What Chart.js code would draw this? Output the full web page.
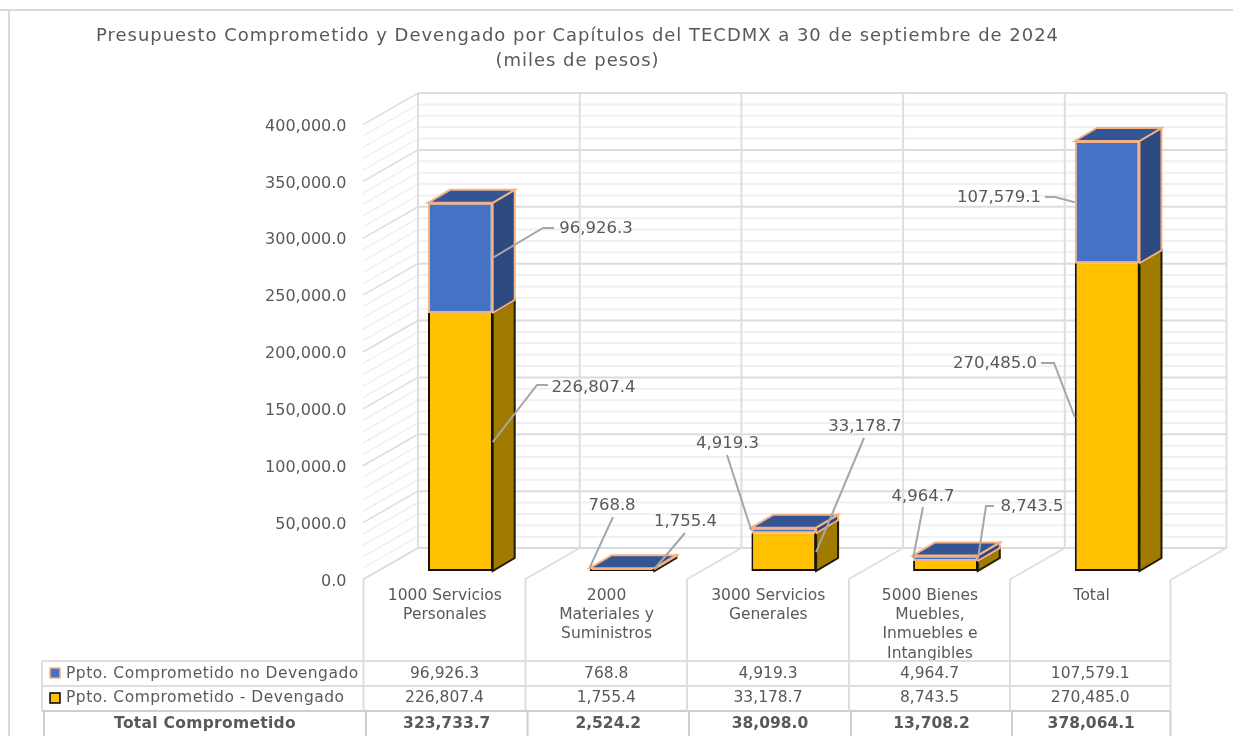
<!DOCTYPE html>
<html lang="es">
<head>
<meta charset="utf-8">
<title>Presupuesto Comprometido y Devengado</title>
<style>html,body{margin:0;padding:0;background:#fff;overflow:hidden}canvas{display:block}</style>
<script src="https://cdn.jsdelivr.net/npm/chart.js@4/dist/chart.umd.min.js"></script>
</head>
<body>
<canvas id="c" width="1233" height="736"></canvas>
<script>
const categories = [
  ['1000 Servicios','Personales'],
  ['2000','Materiales y','Suministros'],
  ['3000 Servicios','Generales'],
  ['5000 Bienes','Muebles,','Inmuebles e','Intangibles'],
  ['Total']
];
const devengado   = [226807.4, 1755.4, 33178.7, 8743.5, 270485.0];
const noDevengado = [96926.3, 768.8, 4919.3, 4964.7, 107579.1];
const totales     = [323733.7, 2524.2, 38098.0, 13708.2, 378064.1];
const serieDevengado   = 'Ppto. Comprometido - Devengado';
const serieNoDevengado = 'Ppto. Comprometido no Devengado';
const filaTotal = 'Total Comprometido';
const titulo = ['Presupuesto Comprometido y Devengado por Capítulos del TECDMX a 30 de septiembre de 2024','(miles de pesos)'];

const FONT = '"DejaVu Sans"';
const TXT = '#595959';
const fmt = v => v.toLocaleString('en-US',{minimumFractionDigits:1,maximumFractionDigits:1});

// depth geometry of the simulated 3D view
const BAR_DX = 22, BAR_DY = -13;
const WALL_DX = 38.5, WALL_DY = -23, FLOOR_DX = -16.5, FLOOR_DY = 8.5;

// data label placement: label centre, then leader points (the last point is computed from the bar)
const callouts = [
  [ // Devengado
    {t:[593.5,387], edge:'r', pts:[[548,385],[537,385]]},
    {t:[685.5,521], edge:'r', pts:[[685,533]], end:-1},
    {t:[865,426],   edge:'r', pts:[[864,438]]},
    {t:[1032,506],  edge:'r', pts:[[994,506],[986,506]], end:-6},
    {t:[995,363],   edge:'l', pts:[[1041,363],[1054,363]]}
  ],
  [ // No devengado
    {t:[596,228],   edge:'r', pts:[[554,228],[543,228]]},
    {t:[612,505],   edge:'l', pts:[[613,517]], end:-1},
    {t:[727.5,443], edge:'l', pts:[[727,455]]},
    {t:[923,496],   edge:'l', pts:[[923,507]]},
    {t:[999,197],   edge:'l', pts:[[1045,197],[1055,197]]}
  ]
];

function poly(ctx, pts, fill, stroke, lw){
  ctx.beginPath();
  pts.forEach((p,i)=> i?ctx.lineTo(p[0],p[1]):ctx.moveTo(p[0],p[1]));
  ctx.closePath();
  ctx.fillStyle = fill; ctx.fill();
  if(stroke){ctx.strokeStyle=stroke;ctx.lineWidth=lw;ctx.lineJoin='miter';ctx.stroke();}
}
function line(ctx,x1,y1,x2,y2,c,w){
  ctx.beginPath();ctx.moveTo(x1,y1);ctx.lineTo(x2,y2);ctx.strokeStyle=c;ctx.lineWidth=w;ctx.stroke();
}

const view3d = {
  id:'view3d',
  afterLayout(chart){
    // The title is centred over the plot frame of the original, not over the canvas
    const tb = chart.titleBlock;
    if(tb){
      tb.left = 96; tb.right = 1059;
      if(!tb._spaced){
        const orig = tb.draw;
        tb.draw = function(){
          chart.ctx.letterSpacing='1px';
          orig.apply(this,arguments);
          chart.ctx.letterSpacing='0px';
        };
        tb._spaced = true;
      }
    }
  },
  beforeDraw(chart){
    const ctx = chart.ctx, {x:xs,y:ys} = chart.scales;
    ctx.save();
    // outer frame
    line(ctx,0,10,1233,10,'#DADADA',2);
    line(ctx,9,10,9,736,'#DADADA',2);
    const n = categories.length, cw = xs.width/n;
    const bx = i => xs.left + i*cw;
    // minor then major horizontals on walls
    const ticks = [];
    for(let v=0;v<=400000;v+=10000) ticks.push(v);
    ticks.sort((a,b)=>(a%50000===0)-(b%50000===0));
    ticks.forEach(v=>{
      const major = v%50000===0;
      const col = major?'#DCDCDC':'#F0F0F0';
      const y = ys.getPixelForValue(v)+WALL_DY;
      line(ctx,bx(0)+WALL_DX,y,bx(n)+WALL_DX,y,col,2);
      line(ctx,bx(0)+WALL_DX,y,bx(0)+FLOOR_DX,y+(FLOOR_DY-WALL_DY),col,1.5);
    });
    // verticals on back wall and floor
    const y0 = ys.getPixelForValue(0);
    for(let i=0;i<=n;i++){
      const xb = bx(i)+WALL_DX, xf = bx(i)+FLOOR_DX;
      line(ctx,xb,ys.getPixelForValue(400000)+WALL_DY,xb,y0+WALL_DY,'#DEDEDE',2);
      line(ctx,xb,y0+WALL_DY,xf,y0+FLOOR_DY,'#DEDEDE',2);
      line(ctx,TAB.cols[i],y0+FLOOR_DY,TAB.cols[i],TAB.r1,'#DEDEDE',2);
    }
    ctx.restore();
  },
  beforeDatasetsDraw(chart){
    const ctx = chart.ctx;
    ctx.save();
    const m0 = chart.getDatasetMeta(0).data, m1 = chart.getDatasetMeta(1).data;
    const side = (e,fill,stroke)=>{
      const r = e.x+e.width/2;
      poly(ctx,[[r,e.y],[r+BAR_DX,e.y+BAR_DY],[r+BAR_DX,e.base+BAR_DY],[r,e.base]],fill,stroke,2);
    };
    m0.forEach(e=>side(e,'#A17A00','#1E1A05'));
    m1.forEach(e=>{
      side(e,'#2C4A80','#F4B183');
      const l=e.x-e.width/2, r=e.x+e.width/2;
      poly(ctx,[[l,e.y],[l+BAR_DX,e.y+BAR_DY],[r+BAR_DX,e.y+BAR_DY],[r,e.y]],'#335594','#F4B183',2);
    });
    ctx.restore();
  },
  afterDatasetsDraw(chart){
    const ctx = chart.ctx;
    ctx.save();
    // callouts
    [devengado,noDevengado].forEach((vals,d)=>{
      const els = chart.getDatasetMeta(d).data;
      vals.forEach((v,i)=>{
        const e = els[i], c = callouts[d][i];
        const ax = e.x + (c.edge==='r'?1:-1)*e.width/2;
        const ay = (e.y+e.base)/2 + (c.end||0);
        ctx.beginPath();
        c.pts.forEach((p,k)=>k?ctx.lineTo(p[0],p[1]):ctx.moveTo(p[0],p[1]));
        ctx.lineTo(ax,ay);
        ctx.strokeStyle='#A6A6A6';ctx.lineWidth=2;ctx.stroke();
        ctx.fillStyle=TXT;ctx.font='16.5px '+FONT;ctx.textAlign='center';ctx.textBaseline='middle';
        ctx.fillText(fmt(v),c.t[0],c.t[1]+1);
      });
    });
    drawTable(ctx);
    ctx.restore();
  }
};

// data table under the plot
const TAB = {r1:661,r2:686,r3:711,r4:737,left:42,leftT:44,
  cols:[363.5,525.5,687,849,1010,1170.5],colsT:[366,527.5,689,851,1012,1170.5]};
function drawTable(ctx){
  const c='#DEDEDE';
  [TAB.r1,TAB.r2].forEach(y=>line(ctx,TAB.left,y,TAB.cols[5],y,c,2));
  line(ctx,TAB.left,TAB.r3,TAB.cols[5],TAB.r3,'#CFCFCF',2);
  line(ctx,TAB.left,TAB.r1,TAB.left,TAB.r3,c,2);
  TAB.cols.forEach(x=>line(ctx,x,TAB.r1,x,TAB.r3,c,2));
  line(ctx,TAB.leftT,TAB.r3,TAB.leftT,TAB.r4,'#CFCFCF',2);
  TAB.colsT.forEach(x=>line(ctx,x,TAB.r3,x,TAB.r4,'#CFCFCF',2));
  ctx.textBaseline='middle';
  ctx.fillStyle=TXT;
  ctx.font='15.5px '+FONT;
  ctx.textAlign='left';
  ctx.letterSpacing='0.5px';
  ctx.fillText(serieNoDevengado,66,673.5);
  ctx.fillText(serieDevengado,66,698);
  ctx.letterSpacing='0px';
  ctx.fillStyle='#4472C4';ctx.strokeStyle='#F4B183';ctx.lineWidth=1.5;
  ctx.fillRect(50,668,10,10);ctx.strokeRect(50,668,10,10);
  ctx.fillStyle='#FFC000';ctx.strokeStyle='#000';ctx.lineWidth=1.5;
  ctx.fillRect(50,693,10,10);ctx.strokeRect(50,693,10,10);
  ctx.fillStyle=TXT;
  ctx.textAlign='center';
  ctx.font='15.5px '+FONT;
  noDevengado.forEach((v,i)=>ctx.fillText(fmt(v),(TAB.cols[i]+TAB.cols[i+1])/2,673.5));
  devengado.forEach((v,i)=>ctx.fillText(fmt(v),(TAB.cols[i]+TAB.cols[i+1])/2,698));
  ctx.font='bold 15.5px '+FONT;
  ctx.letterSpacing='0.3px';
  ctx.fillText(filaTotal,205,724);
  ctx.letterSpacing='0px';
  totales.forEach((v,i)=>ctx.fillText(fmt(v),(TAB.colsT[i]+TAB.colsT[i+1])/2,724));
}

new Chart(document.getElementById('c'),{
  type:'bar',
  data:{
    labels:categories,
    datasets:[
      {label:serieDevengado,data:devengado,backgroundColor:'#FFC000',borderColor:'#14110A',borderWidth:2,borderSkipped:'top',categoryPercentage:1,barPercentage:0.4},
      {label:serieNoDevengado,data:noDevengado,backgroundColor:'#4472C4',borderColor:'#F4B183',borderWidth:2,borderSkipped:false,categoryPercentage:1,barPercentage:0.4}
    ]
  },
  options:{
    responsive:false,animation:false,
    layout:{padding:{left:0,right:45,top:24,bottom:0}},
    plugins:{
      legend:{display:false},tooltip:{enabled:false},
      title:{display:true,text:titulo,color:TXT,
        font:{family:FONT,size:18,weight:'normal',lineHeight:1.39},padding:{top:0,bottom:42}}
    },
    scales:{
      x:{stacked:true,
        grid:{display:false,drawTicks:false},border:{display:false},
        afterFit(s){s.height=165;},
        ticks:{color:TXT,font:{family:FONT,size:15.5,lineHeight:1.25},maxRotation:0,minRotation:0,autoSkip:false,padding:15,labelOffset:-15.5}
      },
      y:{stacked:true,min:0,max:400000,
        grid:{display:false,drawTicks:false},border:{display:false},
        afterFit(s){s.width=379.5;},
        ticks:{stepSize:50000,color:TXT,font:{family:FONT,size:16},padding:33,labelOffset:10.5,callback:v=>fmt(v)}
      }
    }
  },
  plugins:[view3d]
});
</script>
</body>
</html>
